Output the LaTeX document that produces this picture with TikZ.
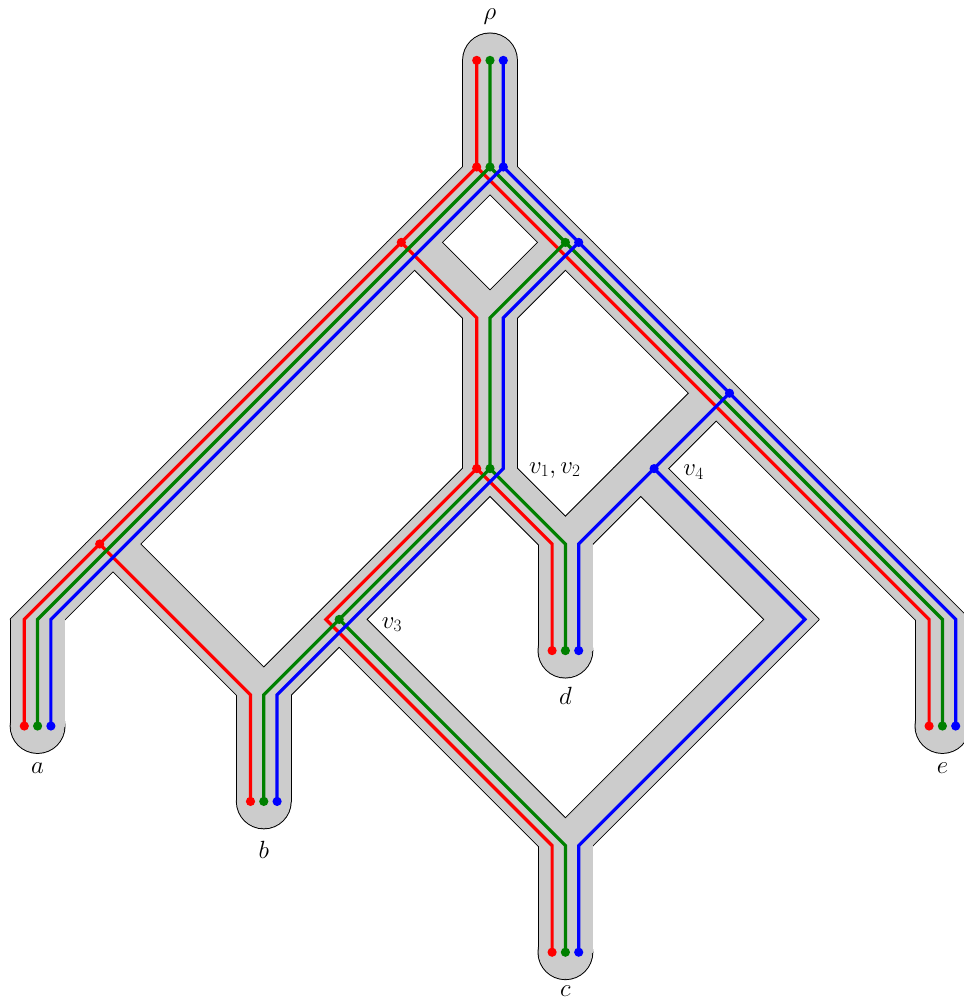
\documentclass[tikz,border=0pt]{standalone}
\usetikzlibrary{calc}
\definecolor{pipegray}{RGB}{204,204,204}
\definecolor{gg}{RGB}{0,128,0}
\begin{document}
\begin{tikzpicture}[x=75.4pt,y=-75.4pt,
  pipeout/.style={draw=black,line width=2.8pt,line join=round},
  pipefill/.style={fill=pipegray,draw=pipegray,line width=0.8pt,line join=round},
  redl/.style={draw=red,line width=3.2pt},
  greenl/.style={draw=gg,line width=3.2pt},
  bluel/.style={draw=blue,line width=3.2pt},
  lbl/.style={inner sep=0pt,font=\fontsize{27}{32}\selectfont}]
\useasboundingbox (-6.4987,-2.2149) rectangle (6.2865,11.1141);
% network nodes (centre lines)
\coordinate (top) at (0,-1.414);
\coordinate (R) at (0,0);
\coordinate (L1) at (-1,1);
\coordinate (L2) at (-5,5);
\coordinate (Ab) at (-6,6);
\coordinate (a) at (-6,7.414);
\coordinate (R1) at (1,1);
\coordinate (H) at (0,2);
\coordinate (R3) at (3,3);
\coordinate (Eb) at (6,6);
\coordinate (e) at (6,7.414);
\coordinate (V) at (0,4);
\coordinate (v3) at (-2,6);
\coordinate (B) at (-3,7);
\coordinate (b) at (-3,8.414);
\coordinate (D) at (1,5);
\coordinate (d) at (1,6.414);
\coordinate (v4) at (2,4);
\coordinate (Q) at (4,6);
\coordinate (C) at (1,9);
\coordinate (c) at (1,10.414);
\foreach \n in {top,R,L1,L2,Ab,a,R1,H,R3,Eb,e,V,v3,B,b,D,d,v4,Q,C,c}{
  \coordinate (\n-r) at ([xshift=-13.3pt]\n);
  \coordinate (\n-g) at (\n);
  \coordinate (\n-b) at ([xshift=13.3pt]\n);
  \coordinate (\n-L) at ([xshift=-26.5pt]\n);
  \coordinate (\n-R) at ([xshift=26.5pt]\n);
}
\def\edgelist{top/R,R/L1,L1/L2,L2/Ab,Ab/a,L1/H,R/R1,R1/H,R1/R3,R3/Eb,Eb/e,H/V,V/v3,v3/B,L2/B,B/b,V/D,R3/v4,v4/D,D/d,v4/Q,Q/C,v3/C,C/c}
% pipes: outline pass
\foreach \p/\q in \edgelist
  \path[pipeout] (\p-L) -- (\q-L) -- (\q-R) -- (\p-R) -- cycle;
\foreach \p in {top,a,b,c,d,e}
  \path[pipeout] (\p) circle[radius=26.5pt];
% pipes: fill pass
\foreach \p/\q in \edgelist
  \path[pipefill] (\p-L) -- (\q-L) -- (\q-R) -- (\p-R) -- cycle;
\foreach \p in {top,a,b,c,d,e}
  \path[pipefill] (\p) circle[radius=26.5pt];
% red gene tree
\draw[redl] (top-r) -- (R-r) -- (L1-r) -- (L2-r) -- (Ab-r) -- (a-r);
\draw[redl] (L2-r) -- (B-r) -- (b-r);
\draw[redl] (L1-r) -- (H-r) -- (V-r) -- (v3-r) -- (C-r) -- (c-r);
\draw[redl] (V-r) -- (D-r) -- (d-r);
\draw[redl] (R-r) -- (R1-r) -- (R3-r) -- (Eb-r) -- (e-r);
% green gene tree
\draw[greenl] (top-g) -- (R-g) -- (L1-g) -- (L2-g) -- (Ab-g) -- (a-g);
\draw[greenl] (R-g) -- (R1-g) -- (R3-g) -- (Eb-g) -- (e-g);
\draw[greenl] (R1-g) -- (H-g) -- (V-g) -- (v3-g) -- (B-g) -- (b-g);
\draw[greenl] (v3-g) -- (C-g) -- (c-g);
\draw[greenl] (V-g) -- (D-g) -- (d-g);
% blue gene tree
\draw[bluel] (top-b) -- (R-b) -- (L1-b) -- (L2-b) -- (Ab-b) -- (a-b);
\draw[bluel] (R-b) -- (R1-b) -- (R3-b) -- (Eb-b) -- (e-b);
\draw[bluel] (R1-b) -- (H-b) -- (V-b) -- (v3-b) -- (B-b) -- (b-b);
\draw[bluel] (R3-b) -- (v4-b) -- (D-b) -- (d-b);
\draw[bluel] (v4-b) -- (Q-b) -- (C-b) -- (c-b);
% dots
\foreach \n in {top,R,L1,L2,V,a,b,c,d,e}
  \fill[red] (\n-r) circle[radius=4.6pt];
\foreach \n in {top,R,R1,V,v3,a,b,c,d,e}
  \fill[gg] (\n-g) circle[radius=4.6pt];
\foreach \n in {top,R,R1,R3,v4,a,b,c,d,e}
  \fill[blue] (\n-b) circle[radius=4.6pt];
% labels
\node[lbl] (lrho) at (0,-2.0) {$\rho$};
\node[lbl] (la) at (-6,7.97) {$a$};
\node[lbl] (lb) at (-3,9.05) {$b$};
\node[lbl] (lc) at (1,10.93) {$c$};
\node[lbl] (ld) at (1,7.02) {$d$};
\node[lbl] (le) at (6,7.97) {$e$};
\node[lbl] (lv12) at (0.86,4.02) {$v_1, v_2$};
\node[lbl] (lv3) at (-1.30,6.07) {$v_3$};
\node[lbl] (lv4) at (2.70,4.05) {$v_4$};
\end{tikzpicture}
\end{document}
